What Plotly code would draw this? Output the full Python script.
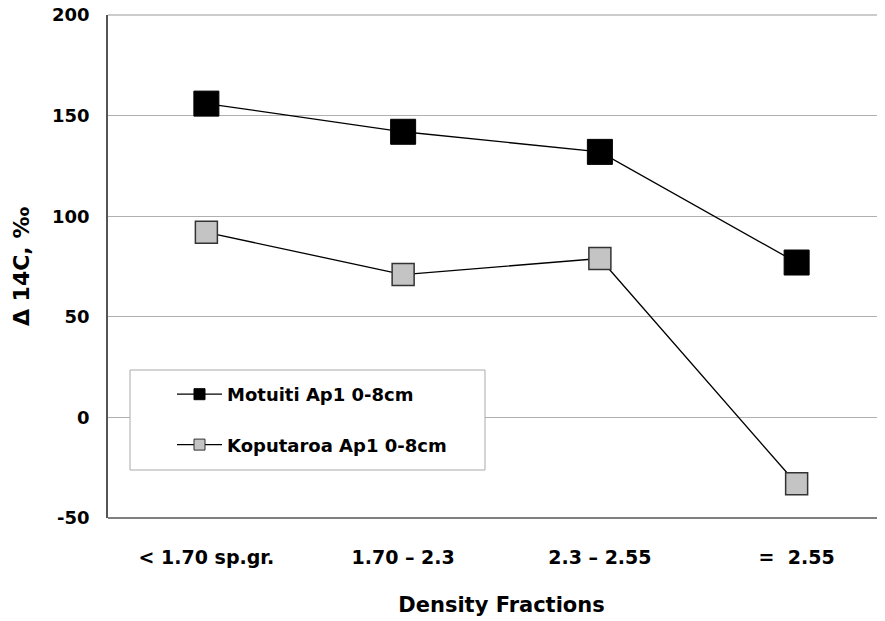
import plotly.graph_objects as go

categories = ["< 1.70 sp.gr.", "1.70 – 2.3", "2.3 – 2.55", "=  2.55"]
motuiti = [156, 142, 132, 77]
koputaroa = [92, 71, 79, -33]
y_ticks = [-50, 0, 50, 100, 150, 200]
y_tick_labels = ["-50", "0", "50", "100", "150", "200"]
names = ["Motuiti Ap1 0-8cm", "Koputaroa Ap1 0-8cm"]

FONT = "DejaVu Sans, Liberation Sans, Arial, sans-serif"

fig = go.Figure()
fig.add_trace(go.Scatter(
    x=categories, y=motuiti, mode="lines+markers", name=names[0], showlegend=False,
    line=dict(color="black", width=1.3),
    marker=dict(symbol="square", size=25, color="black", line=dict(color="black", width=1))))
fig.add_trace(go.Scatter(
    x=categories, y=koputaroa, mode="lines+markers", name=names[1], showlegend=False,
    line=dict(color="black", width=1.3),
    marker=dict(symbol="square", size=22, color="#c4c4c4", line=dict(color="#333333", width=1.5))))
# legend-only entries (small symbols like the original legend)
fig.add_trace(go.Scatter(
    x=[None], y=[None], mode="lines+markers", name=names[0], legendgroup="a",
    line=dict(color="black", width=1.3),
    marker=dict(symbol="square", size=11, color="black", line=dict(color="black", width=1))))
fig.add_trace(go.Scatter(
    x=[None], y=[None], mode="lines+markers", name=names[1], legendgroup="b",
    line=dict(color="black", width=1.3),
    marker=dict(symbol="square", size=11, color="#c4c4c4", line=dict(color="#333333", width=1))))

# page has an 8px body margin; figure coords = page coords - 8
OFF = 8
W, H = 887, 621
L, T = 108 - OFF, 15 - OFF
B = H - (518 - OFF)
R = 0
pw, ph = W - L - R, H - T - B

def px(xp):
    return (xp - OFF - L) / pw

def py(yp):
    return (H - B - (yp - OFF)) / ph

fig.add_shape(type="rect", xref="paper", yref="paper",
              x0=px(130), x1=px(485), y0=py(470), y1=py(370),
              line=dict(color="#aaaaaa", width=1), fillcolor="white", layer="above")
fig.add_shape(type="line", xref="paper", yref="paper", x0=0, x1=1, y0=0, y1=0,
              line=dict(color="#555555", width=1.5))
fig.add_shape(type="line", xref="paper", yref="paper", x0=0, x1=1, y0=1, y1=1,
              line=dict(color="#999999", width=1.2))

fig.update_layout(
    width=W, height=H,
    margin=dict(l=L, r=R, t=T, b=B),
    paper_bgcolor="white", plot_bgcolor="white",
    font=dict(family=FONT, color="black", weight="bold"),
    showlegend=True,
    legend=dict(x=px(172), y=py(376), xanchor="left", yanchor="top",
                bgcolor="rgba(0,0,0,0)", borderwidth=0,
                font=dict(size=18, family=FONT, weight="bold"),
                tracegroupgap=24, itemwidth=45),
    xaxis=dict(type="category", range=[-0.5, 3.5], showgrid=False, automargin=False,
               showline=False, ticks="", zeroline=False, ticklabelstandoff=26,
               tickfont=dict(size=19, family=FONT, weight="bold"),
               title=dict(text="Density Fractions", standoff=30,
                          font=dict(size=21, family=FONT, weight="bold"))),
    yaxis=dict(range=[-50, 200.05], tickvals=y_ticks, ticktext=y_tick_labels, automargin=False,
               ticklabeloverflow="allow",
               showgrid=True, gridcolor="#b0b0b0", gridwidth=1,
               showline=True, linecolor="#555555", linewidth=1.5, zeroline=False,
               ticks="", ticklabelstandoff=13,
               tickfont=dict(size=18, family=FONT, weight="bold"),
               title=dict(text="Δ 14C, ‰", standoff=16,
                          font=dict(size=22, family=FONT, weight="bold"))),
)
fig.write_html("out.html")
